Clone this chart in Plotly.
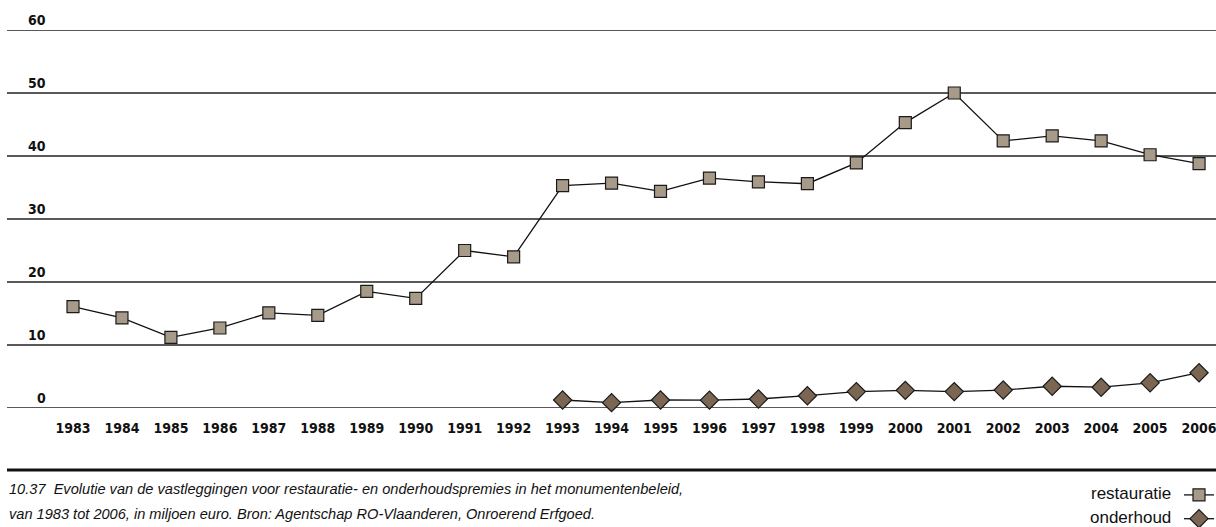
import plotly.graph_objects as go

years = list(range(1983, 2007))
restauratie = [16.1, 14.3, 11.2, 12.7, 15.1, 14.7, 18.5, 17.4, 25.0, 24.0,
               35.3, 35.7, 34.4, 36.5, 35.9, 35.6, 38.9, 45.3, 50.0, 42.4,
               43.2, 42.4, 40.2, 38.8]
onderhoud_years = list(range(1993, 2007))
onderhoud = [1.27, 0.85, 1.27, 1.25, 1.43, 1.95, 2.6, 2.8, 2.6, 2.85,
             3.45, 3.3, 4.0, 5.6]
y_ticks = [0, 10, 20, 30, 40, 50, 60]
series_names = ["restauratie", "onderhoud"]
caption_lines = [
    "10.37  Evolutie van de vastleggingen voor restauratie- en onderhoudspremies in het monumentenbeleid,",
    "van 1983 tot 2006, in miljoen euro. Bron: Agentschap RO-Vlaanderen, Onroerend Erfgoed.",
]

NARROW = "DejaVu Sans Condensed, Liberation Sans Narrow, Arial Narrow, sans-serif"
SANS = "Liberation Sans, Arial, sans-serif"

fig = go.Figure()
fig.add_trace(go.Scatter(
    x=years, y=restauratie, mode="lines+markers", name="",
    line=dict(color="#111111", width=1.3),
    marker=dict(symbol="square", size=12, color="#a89a89",
                line=dict(color="#1a1a1a", width=1.2)),
    cliponaxis=False, hovertext=series_names[0],
))
fig.add_trace(go.Scatter(
    x=onderhoud_years, y=onderhoud, mode="lines+markers", name="",
    line=dict(color="#111111", width=1.3),
    marker=dict(symbol="diamond", size=14, color="#7a6652",
                line=dict(color="#1a1a1a", width=1.2)),
    cliponaxis=False, hovertext=series_names[1],
))

# Horizontal grid lines across the full plot width
for v in y_ticks:
    fig.add_shape(type="line", xref="paper", yref="y", x0=0, x1=1, y0=v, y1=v,
                  line=dict(color="#222222", width=1.3), layer="below")

# Y tick labels sit above their grid lines, right-aligned
for v in y_ticks:
    fig.add_annotation(
        x=0.034, xref="paper", y=v, yref="y", xanchor="right", yanchor="bottom",
        text=f"<b>{v}</b>", showarrow=False,
        font=dict(family=NARROW, size=14, color="#111111"),
    )

# Caption below the rule
for i, line in enumerate(caption_lines):
    fig.add_annotation(
        x=0, xref="paper", y=(408 - 489 - i * 25) / 378, yref="paper",
        xanchor="left", yanchor="middle", text=f"<i>{line}</i>", showarrow=False,
        font=dict(family=SANS, size=14.6, color="#111111"),
    )

# Legend labels, placed left of the legend symbols
for i, name in enumerate(series_names):
    fig.add_annotation(
        x=(1173 - 7) / 1209, xref="paper", y=(408 - 493 - i * 24.5) / 378, yref="paper",
        xanchor="right", yanchor="middle", text=name, showarrow=False,
        font=dict(family=SANS, size=17, color="#111111"),
    )

fig.add_shape(type="line", xref="paper", yref="paper", x0=0, x1=1,
              y0=(408 - 470) / 378, y1=(408 - 470) / 378,
              line=dict(color="#111111", width=3))

fig.update_layout(
    width=1216, height=527,
    margin=dict(l=7, r=0, t=30, b=119, autoexpand=False),
    paper_bgcolor="white", plot_bgcolor="white",
    showlegend=True,
    legend=dict(x=1 + 8 / 1209, xanchor="right", y=(408 - 478) / 378, yanchor="top",
                bgcolor="rgba(0,0,0,0)", itemwidth=30, tracegroupgap=0,
                font=dict(family=SANS, size=16)),
    xaxis=dict(
        range=[1981.652, 2006.346], tickvals=years, ticktext=[str(y) for y in years],
        showgrid=False, zeroline=False, showline=False, ticks="",
        ticklabelstandoff=10, ticklabeloverflow="allow",
        tickfont=dict(family=NARROW, size=14, color="#111111", weight="bold"),
    ),
    yaxis=dict(
        range=[0, 60], showticklabels=False,
        showgrid=False, zeroline=False, showline=False, ticks="",
    ),
)

fig.write_html("out.html")
